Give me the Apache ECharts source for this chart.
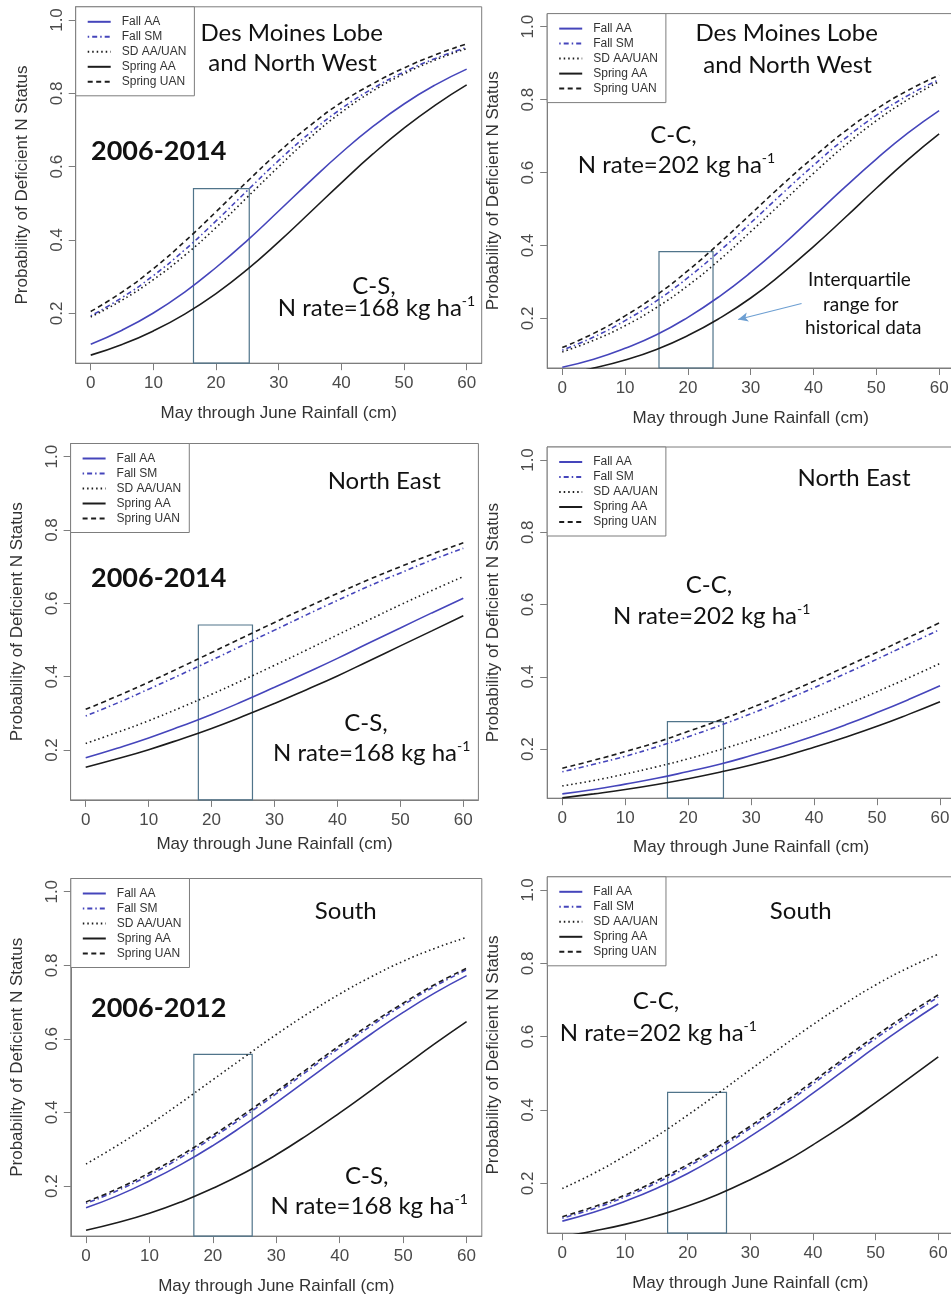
<!DOCTYPE html>
<html><head><meta charset="utf-8">
<script src="https://cdn.jsdelivr.net/npm/echarts@6/dist/echarts.min.js"></script>
<style>html,body{margin:0;padding:0;background:#fff}#c{width:951px;height:1299px}</style>
</head><body><div id="c"></div>
<script>
// ---------- data ----------
const rainfall = [0,5,10,15,20,25,30,35,40,45,50,55,60];
const xTicks = [0,10,20,30,40,50,60];
const yTicks = [0.2,0.4,0.6,0.8,1.0];
const seriesNames = ['Fall AA','Fall SM','SD AA/UAN','Spring AA','Spring UAN'];

// Panel 1: Des Moines Lobe & North West, C-S, 168 kg/ha
const p1FallAA    = [0.116,0.154,0.201,0.258,0.325,0.399,0.479,0.560,0.638,0.709,0.771,0.823,0.866];
const p1FallSM    = [0.193,0.243,0.303,0.373,0.452,0.535,0.617,0.692,0.758,0.813,0.858,0.895,0.925];
const p1SD        = [0.190,0.236,0.292,0.358,0.434,0.517,0.600,0.679,0.748,0.806,0.853,0.891,0.922];
const p1SpringAA  = [0.086,0.115,0.152,0.198,0.254,0.320,0.395,0.475,0.556,0.634,0.705,0.768,0.823];
const p1SpringUAN = [0.205,0.258,0.322,0.396,0.477,0.560,0.640,0.712,0.775,0.826,0.869,0.905,0.935];
const p1IQR = [16.4, 25.3, 0.54];

// Panel 2: Des Moines Lobe & North West, C-C, 202 kg/ha
const p2FallAA    = [0.066,0.088,0.118,0.155,0.203,0.260,0.326,0.400,0.480,0.560,0.637,0.708,0.770];
const p2FallSM    = [0.113,0.149,0.194,0.248,0.312,0.384,0.462,0.542,0.620,0.693,0.757,0.811,0.855];
const p2SD        = [0.108,0.140,0.180,0.230,0.290,0.360,0.438,0.518,0.598,0.674,0.742,0.800,0.850];
const p2SpringAA  = [0.047,0.064,0.086,0.115,0.153,0.200,0.256,0.323,0.397,0.476,0.557,0.635,0.706];
const p2SpringUAN = [0.120,0.159,0.207,0.264,0.331,0.406,0.486,0.566,0.642,0.713,0.774,0.825,0.867];
const p2IQR = [15.4, 24.0, 0.383];
const p2Arrow = [[38.1, 0.241], [28.0, 0.197]];

// Panel 3: North East, C-S, 168 kg/ha
const p3FallAA    = [0.179,0.205,0.233,0.264,0.297,0.333,0.371,0.410,0.450,0.492,0.533,0.574,0.614];
const p3FallSM    = [0.293,0.328,0.366,0.405,0.445,0.486,0.527,0.568,0.608,0.647,0.683,0.718,0.750];
const p3SD        = [0.218,0.248,0.280,0.315,0.352,0.391,0.431,0.472,0.514,0.555,0.596,0.635,0.673];
const p3SpringAA  = [0.153,0.176,0.201,0.229,0.259,0.292,0.327,0.364,0.402,0.443,0.484,0.525,0.566];
const p3SpringUAN = [0.311,0.347,0.385,0.425,0.466,0.507,0.548,0.588,0.627,0.665,0.700,0.734,0.765];
const p3IQR = [17.9, 26.5, 0.541];

// Panel 4: North East, C-C, 202 kg/ha
const p4FallAA    = [0.076,0.088,0.103,0.119,0.138,0.158,0.182,0.208,0.236,0.267,0.301,0.337,0.375];
const p4FallSM    = [0.137,0.158,0.180,0.206,0.234,0.265,0.298,0.333,0.370,0.409,0.449,0.490,0.531];
const p4SD        = [0.098,0.113,0.131,0.151,0.173,0.198,0.225,0.255,0.287,0.322,0.359,0.397,0.437];
const p4SpringAA  = [0.065,0.076,0.088,0.102,0.118,0.136,0.156,0.179,0.205,0.233,0.263,0.296,0.331];
const p4SpringUAN = [0.147,0.169,0.193,0.219,0.249,0.280,0.314,0.350,0.388,0.428,0.468,0.509,0.550];
const p4IQR = [16.7, 25.6, 0.276];

// Panel 5: South, C-S, 168 kg/ha
const p5FallAA    = [0.141,0.174,0.214,0.259,0.310,0.367,0.427,0.490,0.553,0.614,0.672,0.725,0.772];
const p5FallSM    = [0.153,0.188,0.230,0.278,0.332,0.390,0.451,0.514,0.576,0.636,0.692,0.743,0.788];
const p5SD        = [0.260,0.311,0.367,0.427,0.489,0.551,0.612,0.669,0.722,0.769,0.811,0.846,0.876];
const p5SpringAA  = [0.080,0.101,0.126,0.157,0.194,0.236,0.285,0.340,0.399,0.461,0.524,0.587,0.647];
const p5SpringUAN = [0.157,0.193,0.236,0.284,0.338,0.396,0.457,0.520,0.582,0.642,0.697,0.748,0.792];
const p5IQR = [17.0, 26.2, 0.558];

// Panel 6: South, C-C, 202 kg/ha
const p6FallAA    = [0.097,0.121,0.151,0.186,0.227,0.275,0.328,0.385,0.446,0.509,0.572,0.632,0.689];
const p6FallSM    = [0.105,0.131,0.163,0.201,0.245,0.295,0.350,0.409,0.471,0.534,0.595,0.653,0.708];
const p6SD        = [0.186,0.227,0.275,0.328,0.386,0.447,0.510,0.572,0.633,0.689,0.741,0.786,0.825];
const p6SpringAA  = [0.055,0.070,0.088,0.111,0.138,0.171,0.210,0.254,0.305,0.360,0.420,0.482,0.545];
const p6SpringUAN = [0.109,0.136,0.168,0.207,0.251,0.301,0.356,0.416,0.478,0.541,0.602,0.660,0.714];
const p6IQR = [16.8, 26.2, 0.448];

// ---------- styling / layout ----------
const FONT = '"Liberation Sans", Arial, sans-serif';
const ANN = 'Lato, "Open Sans", sans-serif';
const BLUE = '#4545bb', BLACK = '#1c1c1c', FRAME = '#7d7d7d';
const lineStyles = {
  'Fall AA':    {color: BLUE,  type: 'solid'},
  'Fall SM':    {color: BLUE,  type: [1.5,3,5,3]},
  'SD AA/UAN':  {color: BLACK, type: [1.5,3]},
  'Spring AA':  {color: BLACK, type: 'solid'},
  'Spring UAN': {color: BLACK, type: [5,3.5]}
};
const Y_MIN = 0.064, Y_MAX = 1.036, X_MIN = -2.4, X_MAX = 62.4;

const panels = [
  {grid:{left:75.7, top:6.8,   width:406,   height:356.4}, xGap:41.5, sets:[p1FallAA,p1FallSM,p1SD,p1SpringAA,p1SpringUAN], iqr:p1IQR},
  {grid:{left:547.2, top:13.6, width:407,   height:354.4}, xGap:42,   sets:[p2FallAA,p2FallSM,p2SD,p2SpringAA,p2SpringUAN], iqr:p2IQR, arrow:p2Arrow},
  {grid:{left:70.6, top:443.5, width:407.8, height:356.4}, xGap:36,   sets:[p3FallAA,p3FallSM,p3SD,p3SpringAA,p3SpringUAN], iqr:p3IQR},
  {grid:{left:547.2, top:447,  width:407.9, height:351.2}, xGap:40.5, sets:[p4FallAA,p4FallSM,p4SD,p4SpringAA,p4SpringUAN], iqr:p4IQR},
  {grid:{left:70.8, top:878.5, width:411,   height:357.6}, xGap:41.5, sets:[p5FallAA,p5FallSM,p5SD,p5SpringAA,p5SpringUAN], iqr:p5IQR},
  {grid:{left:547.3, top:876.8,width:406,   height:356.4}, xGap:42,   sets:[p6FallAA,p6FallSM,p6SD,p6SpringAA,p6SpringUAN], iqr:p6IQR}
];

const axisText = {fontSize:17, fontFamily:FONT, color:'#4a4a4a'};
const grids = [], xAxes = [], yAxes = [], legends = [], series = [];

panels.forEach((p, i) => {
  grids.push(Object.assign({show:true, borderColor:FRAME, borderWidth:1, backgroundColor:'rgba(0,0,0,0)', containLabel:false, outerBoundsMode:'none'}, p.grid));
  xAxes.push({
    gridIndex:i, type:'value', min:X_MIN, max:X_MAX, position:'bottom',
    axisLine:{show:true, onZero:false, lineStyle:{color:FRAME, width:1}}, splitLine:{show:false},
    axisTick:{show:true, inside:false, length:7, customValues:xTicks, lineStyle:{color:FRAME, width:1}},
    axisLabel:Object.assign({customValues:xTicks, margin:12}, axisText),
    name:'May through June Rainfall (cm)', nameLocation:'middle', nameGap:p.xGap,
    nameTextStyle:{fontSize:17, fontFamily:FONT, color:'#333'}
  });
  yAxes.push({
    gridIndex:i, type:'value', min:Y_MIN, max:Y_MAX, position:'left',
    axisLine:{show:true, onZero:false, lineStyle:{color:FRAME, width:1}}, splitLine:{show:false},
    axisTick:{show:true, inside:false, length:7, customValues:yTicks, lineStyle:{color:FRAME, width:1}},
    axisLabel:Object.assign({customValues:yTicks, rotate:90, margin:10, formatter:v => v.toFixed(1)}, axisText),
    name:'Probability of Deficient N Status', nameLocation:'middle', nameGap:45,
    nameTextStyle:{fontSize:17, fontFamily:FONT, color:'#333'}
  });
  legends.push({
    show:true, orient:'vertical', left:p.grid.left, top:p.grid.top,
    data:seriesNames, selectedMode:false,
    itemWidth:23, itemHeight:12, itemGap:3, padding:[9,8,8,11],
    backgroundColor:'#fff', borderColor:FRAME, borderWidth:1,
    itemStyle:{opacity:0},
    textStyle:{fontSize:12, fontFamily:FONT, color:'#333', padding:[0,0,0,6]}
  });
  seriesNames.forEach((name, k) => {
    const s = {
      name, type:'line', xAxisIndex:i, yAxisIndex:i,
      data: rainfall.map((x, j) => [x, p.sets[k][j]]),
      smooth:true, symbol:'none', clip:true, silent:true,
      lineStyle:{color:lineStyles[name].color, width:1.6, type:lineStyles[name].type},
      itemStyle:{color:lineStyles[name].color},
      z: 3
    };
    if (k === 0) {
      s.markArea = {
        silent:true, label:{show:false},
        itemStyle:{color:'rgba(0,0,0,0)', borderColor:'#50748a', borderWidth:1.2},
        data:[[{coord:[p.iqr[0], Y_MIN]}, {coord:[p.iqr[1], p.iqr[2]]}]]
      };
      if (p.arrow) {
        s.markLine = {
          silent:true, symbol:['none','arrow'], symbolSize:[7,10], label:{show:false},
          lineStyle:{color:'#6d9fd2', width:1.2, type:'solid'},
          data:[[{coord:p.arrow[0]}, {coord:p.arrow[1]}]]
        };
      }
    }
    series.push(s);
  });
});

// ---------- annotation texts ----------
function txt(x, y, text, size, bold) {
  return {type:'text', x, y, silent:true, z:100,
    style:{text, fontSize:size, fontFamily:ANN, fontWeight:bold ? 'bold' : 'normal', fill:'#111',
           align:'center', verticalAlign:'middle', textAlign:'center', textVerticalAlign:'middle'}};
}
function rate(x, y, n) {
  return {type:'text', x, y, silent:true, z:100,
    style:{text:'{m|N rate=' + n + ' kg ha}{s|-1}', align:'center', verticalAlign:'middle',
           textAlign:'center', textVerticalAlign:'middle',
           rich:{m:{fontSize:24, fontFamily:ANN, fill:'#111', lineHeight:28},
                 s:{fontSize:14, fontFamily:ANN, fill:'#111', verticalAlign:'top', lineHeight:16}}}};
}
const texts = [
  txt(291.7, 33, 'Des Moines Lobe', 24), txt(292.5, 63, 'and North West', 24),
  txt(158.7, 151.7, '2006-2014', 27, true), txt(374, 286.7, 'C-S,', 24), rate(376.5, 308.3, 168),

  txt(786.7, 33.3, 'Des Moines Lobe', 24), txt(787.5, 65, 'and North West', 24),
  txt(673.5, 135, 'C-C,', 24), rate(676.5, 165, 202),
  txt(859.5, 280, 'Interquartile', 19), txt(860.8, 305, 'range for', 19), txt(863.3, 328.3, 'historical data', 19),

  txt(384.2, 481.7, 'North East', 24), txt(158.7, 578.3, '2006-2014', 27, true),
  txt(366, 723.3, 'C-S,', 24), rate(371.7, 753.3, 168),

  txt(854, 478.3, 'North East', 24), txt(709, 585, 'C-C,', 24), rate(711.7, 616.7, 202),

  txt(345.8, 911.7, 'South', 24), txt(158.7, 1008.3, '2006-2012', 27, true),
  txt(366.7, 1176.7, 'C-S,', 24), rate(369.2, 1206.7, 168),

  txt(800.8, 911.7, 'South', 24), txt(656, 1001.7, 'C-C,', 24), rate(658.3, 1033.3, 202)
];

const chart = echarts.init(document.getElementById('c'), null, {renderer:'canvas'});
chart.setOption({
  animation:false,
  backgroundColor:'#fff',
  grid:grids, xAxis:xAxes, yAxis:yAxes, legend:legends, series,
  graphic:{elements:texts}
});
</script></body></html>
